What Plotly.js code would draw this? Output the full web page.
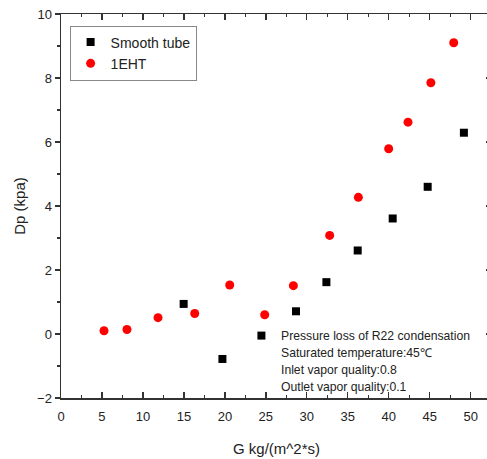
<!DOCTYPE html>
<html>
<head>
<meta charset="utf-8">
<script src="https://cdn.plot.ly/plotly-3.0.1.min.js"></script>
<style>html,body{margin:0;padding:0;overflow:hidden;background:#fff;}</style>
</head>
<body>
<div id="chart" style="width:492px;height:459px;"></div>
<script>
const smoothG = [14.97, 19.70, 24.46, 28.68, 32.39, 36.21, 40.48, 44.75, 49.17];
const smoothDp = [0.94, -0.78, -0.05, 0.71, 1.62, 2.61, 3.61, 4.60, 6.29];
const ehtG = [5.25, 8.05, 11.84, 16.32, 20.59, 24.86, 28.36, 32.79, 36.29, 39.99, 42.35, 45.14, 47.93];
const ehtDp = [0.10, 0.14, 0.51, 0.64, 1.53, 0.60, 1.51, 3.08, 4.27, 5.79, 6.62, 7.85, 9.10];
const xTitle = 'G kg/(m^2*s)';
const yTitle = 'Dp (kpa)';
const noteLines = ['Pressure loss of R22 condensation', 'Saturated temperature:45℃', 'Inlet vapor quality:0.8', 'Outlet vapor quality:0.1'];

const font = {family: '"Liberation Sans", Arial, sans-serif', color: '#222'};
const traces = [
  {x: smoothG, y: smoothDp, type: 'scatter', mode: 'markers', name: 'Smooth tube',
   marker: {symbol: 'square', size: 8, color: '#000'}},
  {x: ehtG, y: ehtDp, type: 'scatter', mode: 'markers', name: '1EHT',
   marker: {symbol: 'circle', size: 9, color: '#ff0000'}},
  {x: [null], y: [null], yaxis: 'y2', type: 'scatter', mode: 'markers', showlegend: false, hoverinfo: 'skip'}
];
const layout = {
  width: 492, height: 459,
  margin: {l: 61, r: 0, t: 14, b: 61},
  paper_bgcolor: '#fff', plot_bgcolor: '#fff',
  font: Object.assign({size: 13}, font),
  showlegend: true,
  legend: {x: 0.02, y: 0.97, xanchor: 'left', yanchor: 'top',
           bordercolor: '#888', borderwidth: 1, bgcolor: '#fff',
           font: Object.assign({size: 14}, font), itemwidth: 30, tracegroupgap: 0},
  xaxis: {range: [0, 52.6], dtick: 5, tick0: 0, ticks: 'inside', ticklen: 6, tickwidth: 1.3,
          tickcolor: '#333', showline: true, linecolor: '#333', linewidth: 1.5,
          mirror: 'ticks', showgrid: false, zeroline: false, ticklabelstandoff: 6,
          minor: {dtick: 2.5, ticks: 'inside', ticklen: 3, tickcolor: '#333'},
          tickfont: Object.assign({size: 13}, font),
          title: {text: xTitle, font: Object.assign({size: 15}, font), standoff: 20}},
  yaxis: {range: [-2, 10], dtick: 2, tick0: 0, ticks: 'outside', ticklen: 5, tickwidth: 1.3,
          tickcolor: '#333', showline: true, linecolor: '#333', linewidth: 1.5,
          mirror: true, showgrid: false, zeroline: false,
          minor: {dtick: 1, ticks: 'outside', ticklen: 3, tickcolor: '#333'},
          tickfont: Object.assign({size: 13}, font),
          title: {text: yTitle, font: Object.assign({size: 15}, font), standoff: 8}},
  yaxis2: {overlaying: 'y', side: 'right', range: [-2, 10], dtick: 2, tick0: 0,
           ticks: 'inside', ticklen: 6, tickwidth: 1.3, tickcolor: '#333',
           showticklabels: false, showgrid: false, zeroline: false, showline: false,
           minor: {dtick: 1, ticks: 'inside', ticklen: 3, tickcolor: '#333'}},
  annotations: noteLines.map((t, i) => ({
    text: t, xref: 'x', yref: 'y', x: 26.6, y: -0.06 - i * 0.53,
    xanchor: 'left', yanchor: 'middle', showarrow: false,
    font: Object.assign({size: 12.2}, font)
  }))
};
Plotly.newPlot('chart', traces, layout, {displayModeBar: false, staticPlot: true});
</script>
</body>
</html>
